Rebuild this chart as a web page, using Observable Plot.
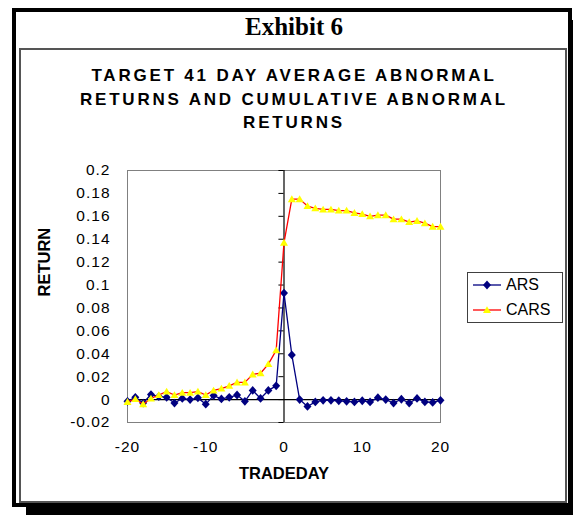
<!DOCTYPE html>
<html>
<head>
<meta charset="utf-8">
<script src="https://cdn.jsdelivr.net/npm/d3@7"></script>
<script src="https://cdn.jsdelivr.net/npm/@observablehq/plot@0.6"></script>
<style>
  html, body { margin: 0; padding: 0; background: #fff; }
  #wrap { position: relative; width: 573px; height: 515px; overflow: hidden; background: #fff; }
  #shadow { position: absolute; left: 26px; top: 20px; width: 547px; height: 495px; background: #000; }
  #outer { position: absolute; left: 12px; top: 8px; width: 560px; height: 499px; box-sizing: border-box; border: 4px solid #000; background: #fff; }
  #inner { position: absolute; left: 19px; top: 48px; width: 548px; height: 455px; box-sizing: border-box; border: 2px solid #555; }
  #exhibit { position: absolute; left: 0; top: 12px; width: 588px; text-align: center; font: bold 25px/30px "Liberation Serif", "Times New Roman", serif; color: #000; }
  #title { position: absolute; left: 0; top: 64px; width: 588px; text-align: center; font: bold 17px/23.5px "Liberation Sans", Arial, sans-serif; letter-spacing: 2.8px; white-space: nowrap; color: #000; }
  #chart { position: absolute; left: 0; top: 0; z-index: 2; }
  #legend { position: absolute; left: 467px; top: 272px; width: 96px; height: 51px; box-sizing: border-box; border: 1px solid #404040; background: #fff; z-index: 3; font: 16px "Liberation Sans", Arial, sans-serif; color: #000; }
  #legend .row { position: absolute; left: 5px; height: 20px; display: flex; align-items: center; }
  #legend svg { display: block; margin-right: 5px; }
  g[aria-label="axis-title"] text { letter-spacing: 1px; }
  g[aria-label="y-axis tick label"] text, g[aria-label="x-axis tick label"] text { letter-spacing: 1px; }
</style>
</head>
<body>
<div id="wrap">
  <div id="shadow"></div>
  <div id="outer"></div>
  <div id="inner"></div>
  <div id="exhibit">Exhibit 6</div>
  <div id="title">TARGET 41 DAY AVERAGE ABNORMAL<br>RETURNS AND CUMULATIVE ABNORMAL<br>RETURNS</div>
  <div id="chart"></div>
  <div id="legend"></div>
</div>
<script>
// ---- data ----
const tradeDays = [-20,-19,-18,-17,-16,-15,-14,-13,-12,-11,-10,-9,-8,-7,-6,-5,-4,-3,-2,-1,0,1,2,3,4,5,6,7,8,9,10,11,12,13,14,15,16,17,18,19,20];
const arsValues = [-0.0015,0.002,-0.003,0.0044,0.0026,0.002,-0.003,0.001,0,0.0015,-0.004,0.0035,0.0006,0.002,0.004,-0.0015,0.008,0.001,0.008,0.012,0.093,0.039,0,-0.006,-0.002,-0.0006,-0.0006,-0.001,-0.0015,-0.002,-0.001,-0.002,0.0017,0,-0.003,0.0003,-0.003,0.001,-0.002,-0.0025,-0.0006];
const carsValues = [-0.002,0.0005,-0.004,0.001,0.004,0.007,0.004,0.006,0.006,0.007,0.004,0.008,0.0096,0.012,0.015,0.015,0.022,0.023,0.031,0.043,0.137,0.175,0.175,0.169,0.167,0.166,0.166,0.165,0.165,0.163,0.162,0.160,0.161,0.161,0.1575,0.1575,0.155,0.156,0.154,0.151,0.151];
const seriesNames = ["ARS", "CARS"];
const xTicks = [-20, -10, 0, 10, 20];
const xTickLabels = ["-20", "-10", "0", "10", "20"];
const yTicks = [-0.02, 0, 0.02, 0.04, 0.06, 0.08, 0.1, 0.12, 0.14, 0.16, 0.18, 0.2];
const yTickLabels = ["-0.02", "0", "0.02", "0.04", "0.06", "0.08", "0.1", "0.12", "0.14", "0.16", "0.18", "0.2"];
const xLabel = "TRADEDAY";
const yLabel = "RETURN";

// ---- build table ----
const ars = tradeDays.map((d, i) => ({day: d, value: arsValues[i]}));
const cars = tradeDays.map((d, i) => ({day: d, value: carsValues[i]}));

const diamond = {
  draw(ctx, size) {
    const r = Math.sqrt(size / Math.PI);
    ctx.moveTo(0, -r * 1.1);
    ctx.lineTo(r, 0);
    ctx.lineTo(0, r * 1.1);
    ctx.lineTo(-r, 0);
    ctx.closePath();
  }
};
const triangle = {
  draw(ctx, size) {
    const r = Math.sqrt(size / Math.PI);
    ctx.moveTo(0, -r * 0.95);
    ctx.lineTo(r, r * 0.75);
    ctx.lineTo(-r, r * 0.75);
    ctx.closePath();
  }
};

const font = "'Liberation Sans', Arial, sans-serif";
const chart = Plot.plot({
  width: 573,
  height: 515,
  marginLeft: 127,
  marginRight: 133,
  marginTop: 170,
  marginBottom: 93,
  style: {background: "transparent", fontFamily: font, fontSize: "15.5px", color: "#000", overflow: "visible"},
  x: {domain: [-20, 20]},
  y: {domain: [-0.02, 0.2]},
  marks: [
    Plot.frame({stroke: "#808080"}),
    Plot.ruleY([0], {stroke: "#000", strokeWidth: 1.2}),
    Plot.ruleX([0], {stroke: "#000", strokeWidth: 1.2}),
    Plot.ruleY(yTicks, {y: d => d, x1: -0.65, x2: 0, stroke: "#000"}),
    Plot.axisY({ticks: yTicks, tickFormat: d => yTickLabels[yTicks.indexOf(d)], tickSize: 0, tickPadding: 17, label: null}),
    Plot.axisX({ticks: xTicks, tickFormat: d => xTickLabels[xTicks.indexOf(d)], tickSize: 0, tickPadding: 18, label: null}),
    Plot.text([yLabel], {text: d => d, frameAnchor: "left", rotate: -90, dx: -83, fontWeight: "bold", fontSize: 16.5, ariaLabel: "axis-title"}),
    Plot.text([xLabel], {text: d => d, frameAnchor: "bottom", dy: 56, fontWeight: "bold", fontSize: 16.5, ariaLabel: "axis-title"}),
    Plot.line(ars, {x: "day", y: "value", stroke: "#000080", strokeWidth: 1.3}),
    Plot.dot(ars, {x: "day", y: "value", r: 4, symbol: diamond, fill: "#000080", stroke: "none"}),
    Plot.line(cars, {x: "day", y: "value", stroke: "#ff0000", strokeWidth: 1.3}),
    Plot.dot(cars, {x: "day", y: "value", r: 4, symbol: triangle, fill: "#ffff00", stroke: "none"})
  ]
});
document.getElementById("chart").appendChild(chart);

// ---- legend ----
const legend = document.getElementById("legend");
const legendStyles = [
  {stroke: "#000080", fill: "#000080", path: "M0,-4.4L4,0L0,4.4L-4,0Z"},
  {stroke: "#ff0000", fill: "#ffff00", path: "M0,-3.8L4,3L-4,3Z"}
];
seriesNames.forEach((name, i) => {
  const row = document.createElement("div");
  row.className = "row";
  row.style.top = (2 + i * 25) + "px";
  const s = legendStyles[i];
  row.innerHTML = `<svg width="28" height="12" viewBox="0 -6 28 12"><line x1="0" x2="28" y1="0" y2="0" stroke="${s.stroke}" stroke-width="1.3"/><path transform="translate(14,0)" d="${s.path}" fill="${s.fill}"/></svg><span>${name}</span>`;
  legend.appendChild(row);
});
</script>
</body>
</html>
